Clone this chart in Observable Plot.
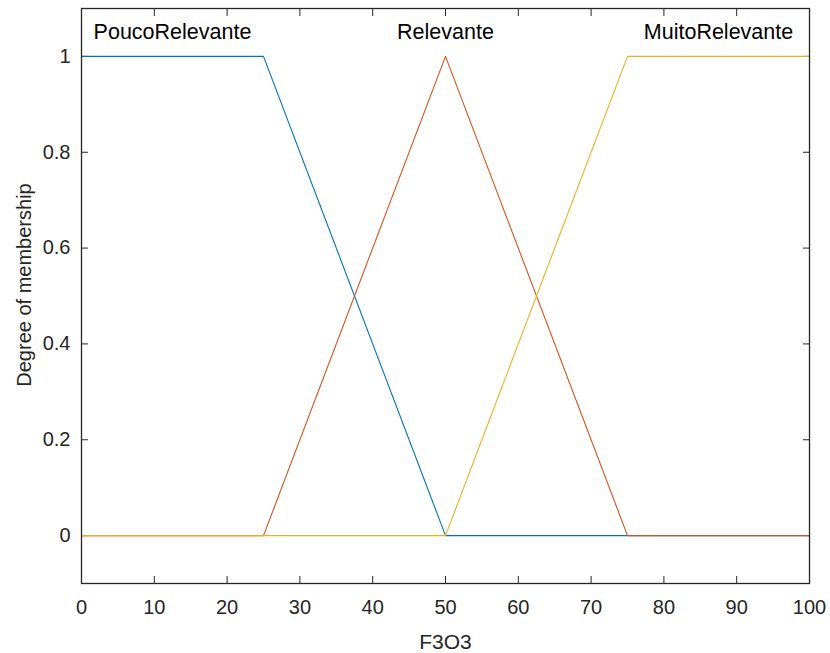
<!DOCTYPE html>
<html>
<head>
<meta charset="utf-8">
<script src="https://cdn.jsdelivr.net/npm/d3@7"></script>
<script src="https://cdn.jsdelivr.net/npm/@observablehq/plot@0.6"></script>
<style>
  html, body { margin: 0; padding: 0; background: #ffffff; }
  svg { font-family: "Liberation Sans", Arial, sans-serif; }
</style>
</head>
<body>
<div id="chart"></div>
<script>
// Membership functions (x, degree)
const pocoX = [0, 25, 50, 100];
const pocoY = [1, 1, 0, 0];
const relX = [0, 25, 50, 75, 100];
const relY = [0, 0, 1, 0, 0];
const muitoX = [0, 50, 75, 100];
const muitoY = [0, 0, 1, 1];

const mfNames = ["PoucoRelevante", "Relevante", "MuitoRelevante"];
const mfLabelX = [12.5, 50, 87.5];
const mfLabelY = [1.05, 1.05, 1.05];
const mfColors = ["#0072BD", "#D95319", "#EDB120"];

const xTicks = [0, 10, 20, 30, 40, 50, 60, 70, 80, 90, 100];
const yTicks = [0, 0.2, 0.4, 0.6, 0.8, 1];
const xTitle = "F3O3";
const yTitle = "Degree of membership";

const toRows = (xs, ys) => xs.map((x, i) => ({x, y: ys[i]}));
const series = [toRows(pocoX, pocoY), toRows(relX, relY), toRows(muitoX, muitoY)];
const labels = mfNames.map((n, i) => ({name: n, x: mfLabelX[i], y: mfLabelY[i]}));

const axisColor = "#262626";
const fs = 20;

const chart = Plot.plot({
  width: 830,
  height: 653,
  marginLeft: 81,
  marginRight: 21,
  marginTop: 8,
  marginBottom: 70,
  style: {fontSize: fs + "px", fontFamily: "'Liberation Sans', Arial, sans-serif", color: axisColor, background: "#ffffff"},
  x: {domain: [0, 100]},
  y: {domain: [-0.1, 1.1]},
  marks: [
    // inward ticks on all four sides
    Plot.axisX(xTicks, {anchor: "bottom", tickSize: -7, tickFormat: () => "", stroke: axisColor, strokeOpacity: 1, label: null}),
    Plot.axisX(xTicks, {anchor: "top", tickSize: -7, tickFormat: () => "", stroke: axisColor, strokeOpacity: 1, label: null}),
    Plot.axisY(yTicks, {anchor: "left", tickSize: -7, tickFormat: () => "", stroke: axisColor, strokeOpacity: 1, label: null}),
    Plot.axisY(yTicks, {anchor: "right", tickSize: -7, tickFormat: () => "", stroke: axisColor, strokeOpacity: 1, label: null}),
    // tick labels
    Plot.axisX(xTicks, {anchor: "bottom", tickSize: 0, tickPadding: 16, fill: axisColor, fontSize: fs, label: null}),
    Plot.axisY(yTicks, {anchor: "left", tickSize: 0, tickPadding: 11, fill: axisColor, fontSize: fs,
      tickFormat: d => String(d), label: null}),
    // axis titles
    Plot.text([xTitle], {text: d => d, frameAnchor: "bottom", dy: 59, textAnchor: "middle", lineAnchor: "middle", fill: axisColor, fontSize: 21}),
    Plot.text([yTitle], {text: d => d, frameAnchor: "left", rotate: -90, dx: -57, dy: -11, textAnchor: "middle", lineAnchor: "middle", fill: axisColor, fontSize: 20}),
    // curves
    ...series.map((s, i) => Plot.line(s, {x: "x", y: "y", stroke: mfColors[i], strokeWidth: 1.1})),
    // labels
    Plot.text(labels, {x: "x", y: "y", text: "name", fill: "#000000", fontSize: 21.5, textAnchor: "middle", lineAnchor: "middle"}),
    Plot.frame({stroke: axisColor, strokeWidth: 1.3})
  ]
});

document.getElementById("chart").appendChild(chart);
</script>
</body>
</html>
